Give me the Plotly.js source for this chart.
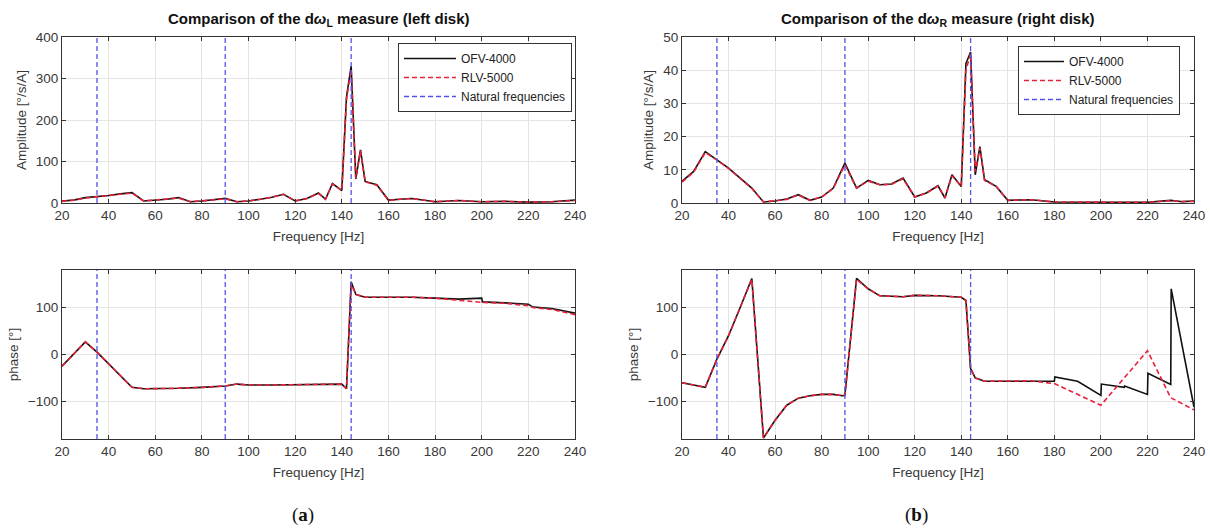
<!DOCTYPE html>
<html>
<head>
<meta charset="utf-8">
<script src="https://cdn.plot.ly/plotly-3.0.1.min.js"></script>
<style>html,body{margin:0;padding:0;background:#fff;}#chart{width:1210px;height:531px;}</style>
</head>
<body>
<div id="chart"></div>
<script>
// ---- Data ----
const natFreq = [35, 90, 144];

// (a) left disk amplitude
const ampL_f = [20,25,30,35,40,45,50,55,60,65,70,75,80,85,90,95,100,105,110,115,120,125,130,133,136,140,142,144,146,148,150,155,160,165,170,180,190,200,210,220,230,240];
const ampL_ofv = [5,7,13,15,18,22,25,5,7,9,13,3,5,8,11,3,5,9,14,21,5,11,24,9,47,30,255,330,58,128,52,44,7,9,11,3,6,3,4,2,3,7];
const ampL_rlv = [4,7,12,15,18,22,24,5,7,9,12,3,5,8,10,3,5,9,14,21,5,11,23,9,46,30,250,322,60,126,51,43,6,9,11,3,6,3,4,2,3,6];

// (a) left disk phase
const phL_f = [20,25,30,35,40,45,50,55,60,70,80,90,95,100,110,120,130,140,142,144,146,150,160,170,180,190,200,200.3,210,220,222,230,240];
const phL_ofv = [-25,0,27,5,-20,-45,-70,-73,-73,-72,-70,-67,-63,-65,-65,-64,-63,-63,-73,155,128,122,122,122,120,118,120,112,110,107,101,98,88];
const phL_rlv = [-25,0,27,5,-20,-45,-70,-73,-73,-72,-70,-67,-63,-65,-65,-64,-63,-63,-73,150,128,122,122,122,120,115,111,111,109,104,100,96,85];

// (b) right disk amplitude
const ampR_f = [20,25,30,35,40,45,50,55,60,65,70,75,80,85,90,95,100,105,110,115,120,125,130,133,136,140,142,144,146,148,150,155,160,165,170,180,190,200,210,220,230,235,240];
const ampR_ofv = [6.5,9.5,15.5,13,10.5,7.5,4.5,0.3,0.6,1.2,2.5,0.8,1.8,4.5,12,4.5,6.8,5.5,5.7,7.5,1.8,3,5.2,1.5,8.5,5,42,45.5,8.5,17,7,5,0.8,0.9,1,0.3,0.3,0.2,0.2,0.2,0.8,0.4,0.6];
const ampR_rlv = [6.3,9.3,15.2,13,10.4,7.4,4.4,0.3,0.6,1.1,2.4,0.8,1.8,4.4,11.5,4.5,6.6,5.5,5.6,7.3,1.8,3,5.1,1.5,8.2,5,40,45,9.5,16.5,6.8,5,0.8,0.9,1,0.3,0.3,0.2,0.2,0.2,0.7,0.4,0.5];

// (b) right disk phase
const phR_f = [20,30,35,40,45,50,55,60,65,70,75,80,85,89,90,95,100,105,110,115,120,125,130,140,142,144,146,150,160,170,180,180.2,190,200,200.2,210,210.2,220,220.2,230,230.2,240];
const phR_ofv = [-60,-70,-10,40,100,162,-178,-140,-108,-93,-88,-85,-85,-88,-87,162,140,125,124,123,126,126,125,122,115,-30,-50,-57,-57,-56,-57,-48,-57,-87,-63,-70,-67,-85,-40,-64,140,-112];
const phR_f_rlv = [20,30,35,40,45,50,55,60,65,70,75,80,85,89,90,95,100,105,110,115,120,125,130,140,142,144,146,150,160,170,180,200,220,230,240];
const phR_rlv = [-60,-70,-10,40,100,160,-178,-140,-108,-93,-88,-85,-85,-88,-87,160,140,125,124,123,126,126,125,122,115,-30,-50,-57,-57,-56,-62,-108,8,-92,-118];

const xTicks = [20,40,60,80,100,120,140,160,180,200,220,240];
const ampLRange = [0, 400];
const ampRRange = [0, 50];
const phRange = [-180, 180];

// ---- helpers ----
const BLACK = '#111111', RED = '#e8203a', BLUE = '#5252ee';
function natTrace(xa, ya, range, legend, show) {
  const xs = [], ys = [];
  natFreq.forEach(f => { xs.push(f, f, null); ys.push(range[0], range[1], null); });
  return {x: xs, y: ys, xaxis: xa, yaxis: ya, mode: 'lines', name: 'Natural frequencies',
    line: {color: BLUE, width: 1.3, dash: '5px,3px'}, showlegend: show, legend: legend, hoverinfo: 'skip'};
}
function line(x, y, xa, ya, name, color, dash, legend, show) {
  return {x: x, y: y, xaxis: xa, yaxis: ya, mode: 'lines', name: name,
    line: {color: color, width: 1.6, dash: dash}, showlegend: show, legend: legend};
}

const traces = [
  line(ampL_f, ampL_ofv, 'x', 'y', 'OFV-4000', BLACK, 'solid', 'legend', true),
  line(ampL_f, ampL_rlv, 'x', 'y', 'RLV-5000', RED, '5px,3px', 'legend', true),
  natTrace('x', 'y', ampLRange, 'legend', true),
  line(phL_f, phL_ofv, 'x3', 'y3', 'OFV-4000', BLACK, 'solid', 'legend', false),
  line(phL_f, phL_rlv, 'x3', 'y3', 'RLV-5000', RED, '5px,3px', 'legend', false),
  natTrace('x3', 'y3', phRange, 'legend', false),
  line(ampR_f, ampR_ofv, 'x2', 'y2', 'OFV-4000', BLACK, 'solid', 'legend2', true),
  line(ampR_f, ampR_rlv, 'x2', 'y2', 'RLV-5000', RED, '5px,3px', 'legend2', true),
  natTrace('x2', 'y2', ampRRange, 'legend2', true),
  line(phR_f, phR_ofv, 'x4', 'y4', 'OFV-4000', BLACK, 'solid', 'legend2', false),
  line(phR_f_rlv, phR_rlv, 'x4', 'y4', 'RLV-5000', RED, '5px,3px', 'legend2', false),
  natTrace('x4', 'y4', phRange, 'legend2', false)
];

const W = 1210, H = 531;
const FONT = 'Liberation Sans, Arial, sans-serif';
const tickFont = {family: FONT, size: 13.5, color: '#383838'};
const titleFont = {family: FONT, size: 13.5, color: '#383838'};
function xax(domain, anchor) {
  return {domain: domain, anchor: anchor, range: [20, 240], tickvals: xTicks, ticks: 'inside', ticklen: 4,
    tickcolor: '#333', showline: true, linecolor: '#333', linewidth: 1, mirror: 'ticks',
    showgrid: true, gridcolor: '#e4e4e4', zeroline: false, tickfont: tickFont,
    title: {text: 'Frequency [Hz]', font: titleFont, standoff: 9}, automargin: false};
}
function yax(domain, anchor, range, dtick, title) {
  return {domain: domain, anchor: anchor, range: range, dtick: dtick, tick0: 0, ticks: 'inside', ticklen: 4,
    tickcolor: '#333', showline: true, linecolor: '#333', linewidth: 1, mirror: 'ticks',
    showgrid: true, gridcolor: '#e4e4e4', zeroline: false, tickfont: tickFont,
    title: {text: title, font: titleFont, standoff: 6}, automargin: false};
}
const dxL = [62 / W, 575 / W], dxR = [682 / W, 1194 / W];
const dyT = [1 - 203 / H, 1 - 37 / H], dyB = [1 - 439 / H, 1 - 270 / H];

function legendStyle(x, y, iw) {
  return {x: x, y: y, bgcolor: '#fff', bordercolor: '#333', borderwidth: 1,
    font: {family: FONT, size: 12, color: '#222'}, tracegroupgap: 0, itemwidth: iw,
    yanchor: 'top', xanchor: 'right'};
}

const titleStyle = {family: FONT, size: 15, color: '#111'};
const capStyle = {family: 'Liberation Serif, Times New Roman, serif', size: 19, color: '#111'};

const layout = {
  width: W, height: H, margin: {l: 0, r: 0, t: 0, b: 0},
  paper_bgcolor: '#fff', plot_bgcolor: '#fff', font: {family: FONT},
  xaxis: xax(dxL, 'y'), yaxis: yax(dyT, 'x', ampLRange, 100, 'Amplitude [°/s/A]'),
  xaxis2: xax(dxR, 'y2'), yaxis2: yax(dyT, 'x2', ampRRange, 10, 'Amplitude [°/s/A]'),
  xaxis3: xax(dxL, 'y3'), yaxis3: yax(dyB, 'x3', phRange, 100, 'phase [°]'),
  xaxis4: xax(dxR, 'y4'), yaxis4: yax(dyB, 'x4', phRange, 100, 'phase [°]'),
  legend: legendStyle(572 / W, 1 - 43 / H, 52),
  legend2: legendStyle(1180 / W, 1 - 46 / H, 40),
  annotations: [
    {text: '<b>Comparison of the d<i>ω</i><sub>L</sub> measure (left disk)</b>', xref: 'paper', yref: 'paper',
      x: (62 + 575) / 2 / W, y: 1 - 20 / H, xanchor: 'center', yanchor: 'middle', showarrow: false, font: titleStyle},
    {text: '<b>Comparison of the d<i>ω</i><sub>R</sub> measure (right disk)</b>', xref: 'paper', yref: 'paper',
      x: (682 + 1194) / 2 / W, y: 1 - 20 / H, xanchor: 'center', yanchor: 'middle', showarrow: false, font: titleStyle},
    {text: '(<b>a</b>)', xref: 'paper', yref: 'paper', x: 303 / W, y: 1 - 515 / H,
      xanchor: 'center', yanchor: 'middle', showarrow: false, font: capStyle},
    {text: '(<b>b</b>)', xref: 'paper', yref: 'paper', x: 916 / W, y: 1 - 515 / H,
      xanchor: 'center', yanchor: 'middle', showarrow: false, font: capStyle}
  ]
};

Plotly.newPlot('chart', traces, layout, {displayModeBar: false, staticPlot: true});
</script>
</body>
</html>
